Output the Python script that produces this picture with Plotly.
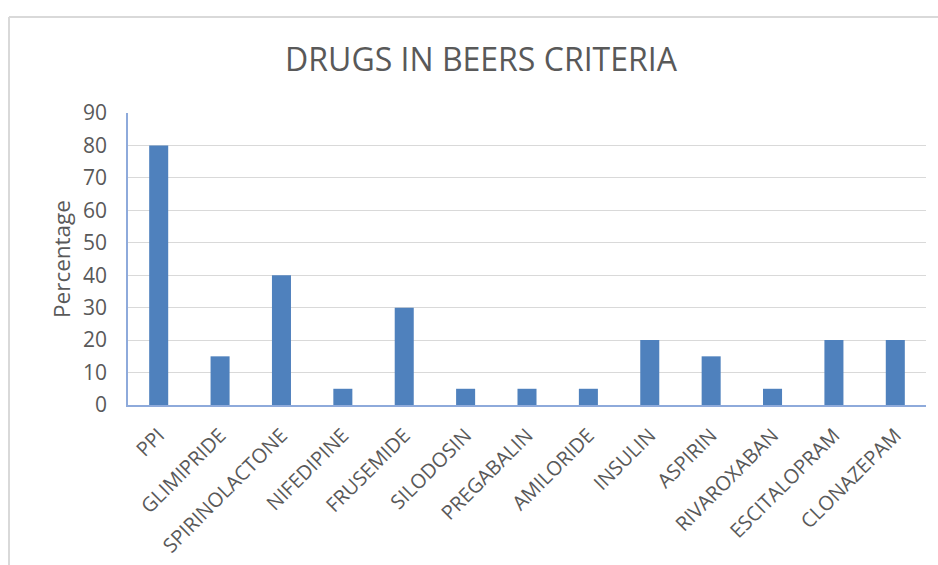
import plotly.graph_objects as go

drugs = ["PPI", "GLIMIPRIDE", "SPIRINOLACTONE", "NIFEDIPINE", "FRUSEMIDE", "SILODOSIN",
         "PREGABALIN", "AMILORIDE", "INSULIN", "ASPIRIN", "RIVAROXABAN", "ESCITALOPRAM", "CLONAZEPAM"]
percentage = [80, 15, 40, 5, 30, 5, 5, 5, 20, 15, 5, 20, 20]
y_ticks = [0, 10, 20, 30, 40, 50, 60, 70, 80, 90]

W, H = 938, 565
L, R, T, B = 128, 12, 113, 160
pw, ph = W - L - R, H - T - B

fig = go.Figure(go.Bar(x=drugs, y=percentage, marker=dict(color="#4F81BD", line=dict(width=0))))

font = "Open Sans"
grey = "#595959"

fig.update_layout(
    width=W, height=H,
    margin=dict(l=L, r=R, t=T, b=B, autoexpand=False),
    paper_bgcolor="white", plot_bgcolor="white",
    bargap=0.69,
    showlegend=False,
    title=dict(text="DRUGS IN BEERS CRITERIA", x=481 / W, xanchor="center",
               y=1 - 60 / H, yanchor="middle",
               font=dict(family=font, size=32, color=grey)),
    font=dict(family=font, color=grey),
)
fig.update_xaxes(
    tickangle=-45, tickfont=dict(family=font, size=20, color=grey),
    showline=True, linecolor="#8EAADB", linewidth=1.5,
    showgrid=False, ticks="", ticklabelstandoff=9,
)
fig.update_yaxes(
    range=[0, 90], tickvals=y_ticks, tickfont=dict(family=font, size=21, color=grey),
    showline=True, linecolor="#8EAADB", linewidth=1.5,
    gridcolor="#D9D9D9", gridwidth=1, zeroline=False, ticks="",
    ticklabelstandoff=15,
    title=dict(text="Percentage", font=dict(family=font, size=22.5, color=grey), standoff=6),
)

# outer chart border (left and top edges visible)
bx = (9 - L) / pw
by_top = (H - B - 17) / ph
by_bot = (H - B - H - 5) / ph
fig.add_shape(type="line", xref="paper", yref="paper", x0=bx, x1=bx, y0=by_bot, y1=by_top,
              line=dict(color="#D9D9D9", width=2), layer="below")
fig.add_shape(type="line", xref="paper", yref="paper", x0=bx, x1=(W + 5 - L) / pw, y0=by_top, y1=by_top,
              line=dict(color="#D9D9D9", width=2), layer="below")

fig.write_html("out.html")
